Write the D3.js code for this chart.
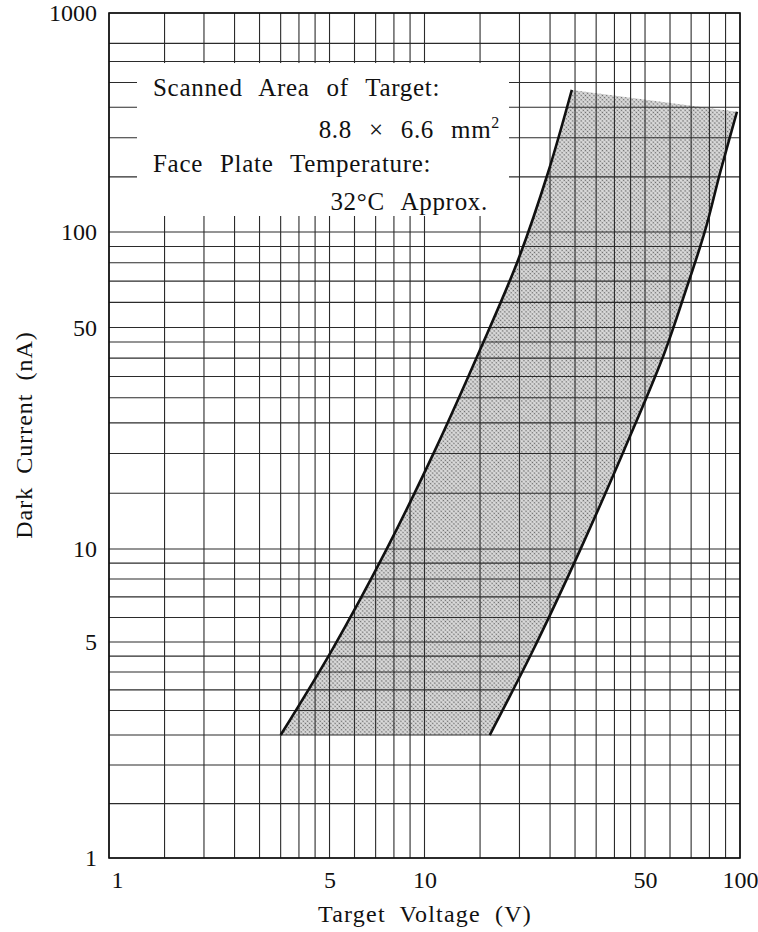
<!DOCTYPE html>
<html>
<head>
<meta charset="utf-8">
<script src="https://cdn.jsdelivr.net/npm/d3@7"></script>
<style>
  body { margin: 0; background: #fff; }
  text { font-family: "Liberation Serif", "DejaVu Serif", serif; fill: #111; }
</style>
</head>
<body>
<svg id="chart"></svg>
<script>
// grid values of the log paper
const xGridValues = [1, 1.5, 2, 2.5, 3, 3.5, 4, 4.5, 5, 6, 7, 8, 9, 10, 15, 20, 25, 30, 35, 40, 45, 50, 60, 70, 80, 90, 100];
const yGridValues = [1, 1.5, 2, 2.5, 3, 3.5, 4, 4.5, 5, 6, 7, 8, 9, 10, 15, 20, 25, 30, 35, 40, 45, 50, 60, 70, 80, 90, 100, 150, 200, 250, 300, 350, 400, 500];

// tick labels (top line of the paper is printed as "1000")
const xTickValues = [1, 5, 10, 50, 100];
const xTickLabels = ["1", "5", "10", "50", "100"];
const yTickValues = [1, 5, 10, 50, 100, 500];
const yTickLabels = ["1", "5", "10", "50", "100", "1000"];

// left boundary curve : voltage V, current nA
const leftVoltage = [3.5, 5.09, 7.55, 10.8, 15.0, 19.8, 24.6, 29.3];
const leftCurrent = [2.5, 4.71, 9.9, 20.5, 42.5, 81.6, 154, 284];
// right boundary curve
const rightVoltage = [16.1, 22.1, 31.1, 42.9, 57.0, 66.9, 77.5, 86.4, 97.8];
const rightCurrent = [2.5, 4.71, 9.9, 20.5, 40.4, 64.2, 101, 154, 242];

var width = 758;
var height = 932;
var plot = { left: 109, right: 740, top: 13, bottom: 858 };

var svg = d3.select('#chart')
  .attr('width', width)
  .attr('height', height);

var x = d3.scaleLog().domain([1, 100]).range([plot.left, plot.right]);
// the printed decades are not quite equal, so pin each decade line
var y = d3.scaleLog().domain([1, 10, 100, 500]).range([plot.bottom, 549, 232, plot.top]);

// stipple pattern for the shaded band
var defs = svg.append('defs');
var pat = defs.append('pattern')
  .attr('id', 'dots')
  .attr('width', 3)
  .attr('height', 3)
  .attr('patternUnits', 'userSpaceOnUse')
  .attr('patternTransform', 'rotate(45)');
pat.append('rect').attr('width', 3).attr('height', 3).attr('fill', '#dcdcdc');
pat.append('circle').attr('cx', 1.5).attr('cy', 1.5).attr('r', 0.85).attr('fill', '#666');

var left = leftVoltage.map((v, i) => [x(v), y(leftCurrent[i])]);
var right = rightVoltage.map((v, i) => [x(v), y(rightCurrent[i])]);

var line = d3.line().curve(d3.curveCatmullRom.alpha(0.5));

// shaded band: left curve up, straight across the top, right curve down
var bandPath = line(left) + line(right.slice().reverse()).replace(/^M/, 'L') + 'Z';
svg.append('path')
  .attr('d', bandPath)
  .attr('fill', 'url(#dots)');

//////////////////////////////////////////////////////////////
// grid
var grid = svg.append('g').attr('class', 'grid');

grid.selectAll('line.v')
  .data(xGridValues)
  .join('line')
    .attr('class', 'v')
    .attr('x1', d => x(d)).attr('x2', d => x(d))
    .attr('y1', plot.top).attr('y2', plot.bottom)
    .attr('stroke', '#2b2b2b')
    .attr('stroke-width', 1.1);

grid.selectAll('line.h')
  .data(yGridValues)
  .join('line')
    .attr('class', 'h')
    .attr('x1', plot.left).attr('x2', plot.right)
    .attr('y1', d => y(d)).attr('y2', d => y(d))
    .attr('stroke', '#2b2b2b')
    .attr('stroke-width', 1.1);

// blank space for the note
svg.append('rect')
  .attr('x', 137)
  .attr('y', y(350) + 1.5)
  .attr('width', 372)
  .attr('height', 216 - y(350) - 1.5)
  .attr('fill', '#fff');

// frame
svg.append('rect')
  .attr('x', plot.left)
  .attr('y', plot.top)
  .attr('width', plot.right - plot.left)
  .attr('height', plot.bottom - plot.top)
  .attr('fill', 'none')
  .attr('stroke', '#111')
  .attr('stroke-width', 1.6);

// boundary curves
[left, right].forEach(pts => {
  svg.append('path')
    .attr('d', line(pts))
    .attr('fill', 'none')
    .attr('stroke', '#111')
    .attr('stroke-width', 2.6);
});

//////////////////////////////////////////////////////////////
// axes (labels only)
var xAxis = svg.append('g')
  .attr('transform', 'translate(0,' + plot.bottom + ')')
  .call(d3.axisBottom(x).tickValues(xTickValues).tickFormat((d, i) => xTickLabels[i]).tickSize(0).tickPadding(13));
var yAxis = svg.append('g')
  .attr('transform', 'translate(' + plot.left + ',0)')
  .call(d3.axisLeft(y).tickValues(yTickValues).tickFormat((d, i) => yTickLabels[i]).tickSize(0).tickPadding(12));

[xAxis, yAxis].forEach(g => {
  g.select('.domain').remove();
  g.selectAll('text')
    .style('font-family', '"Liberation Serif", serif')
    .style('font-size', '24px')
    .attr('fill', '#111');
});
// the "1" under the left edge sits a little to the right in the print
xAxis.selectAll('.tick text').filter((d, i) => i === 0).attr('dx', 8);

// axis titles
svg.append('text')
  .attr('x', 425)
  .attr('y', 922)
  .attr('text-anchor', 'middle')
  .style('font-size', '24px')
  .style('letter-spacing', '1.2px')
  .style('word-spacing', '7px')
  .text('Target Voltage (V)');

svg.append('text')
  .attr('transform', 'translate(32,435) rotate(-90)')
  .attr('text-anchor', 'middle')
  .style('font-size', '24px')
  .style('letter-spacing', '1px')
  .style('word-spacing', '6px')
  .text('Dark Current (nA)');

//////////////////////////////////////////////////////////////
// note
var note = svg.append('g')
  .style('font-size', '25px')
  .style('letter-spacing', '0.7px')
  .style('word-spacing', '10px');

note.append('text').attr('x', 153).attr('y', 96).text('Scanned Area of Target:');
note.append('text').attr('x', 500).attr('y', 138).attr('text-anchor', 'end')
  .html('8.8 × 6.6 mm<tspan dy="-10" font-size="16px">2</tspan>');
note.append('text').attr('x', 153).attr('y', 172).text('Face Plate Temperature:');
note.append('text').attr('x', 488).attr('y', 210).attr('text-anchor', 'end').text('32°C Approx.');
</script>
</body>
</html>
